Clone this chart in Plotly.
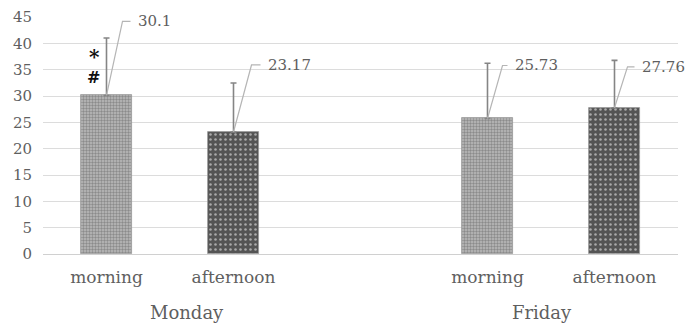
import plotly.graph_objects as go

# Mean values with upper standard deviation per day and time of day
days = ["Monday", "Friday"]
periods = ["morning", "afternoon"]
means = [[30.1, 23.17], [25.73, 27.76]]
sd = [[10.9, 9.3], [10.5, 9.0]]
y_ticks = [0, 5, 10, 15, 20, 25, 30, 35, 40, 45]

FONT = "DejaVu Serif"
TXT = "#5f5f5f"

# pattern fill per time of day
patterns = {
    "morning": dict(shape=".", fgcolor="#5a5a5a", bgcolor="#bcbcbc", size=3, solidity=0.5),
    "afternoon": dict(shape=".", fgcolor="#ffffff", bgcolor="#545454", size=5, solidity=0.2),
}

# leader-line geometry (pixels, relative to bar top): rise, bend dx, end dx
leaders = [[(74, 16, 24), (67, 18, 27)], [(53, 15, 20), (41, 13, 20)]]

fig = go.Figure()
shapes = []
annotations = []
tickvals, ticktext = [], []

for di, day in enumerate(days):
    for pi, per in enumerate(periods):
        xpos = di * 3 + pi
        tickvals.append(xpos)
        ticktext.append(per)
        fig.add_trace(go.Bar(
            x=[xpos], y=[means[di][pi]], width=0.4,
            marker=dict(color=patterns[per]["bgcolor"], pattern=patterns[per],
                        line=dict(width=0.8, color="#9a9a9a")),
            error_y=dict(type="data", array=[sd[di][pi]], arrayminus=[0],
                         symmetric=False, color="#858585", thickness=1.6, width=3),
            showlegend=False, hoverinfo="skip",
        ))
        rise, bend, end = leaders[di][pi]
        shapes.append(dict(
            type="path", xref="x", yref="y", xsizemode="pixel", ysizemode="pixel",
            xanchor=xpos, yanchor=means[di][pi],
            path=f"M0,0 L{bend},{rise} L{end},{rise}",
            line=dict(color="#b5b5b5", width=1.2),
        ))
        annotations.append(dict(
            x=xpos, y=means[di][pi], xref="x", yref="y",
            text=f"{means[di][pi]}", showarrow=False,
            xanchor="left", yanchor="middle",
            xshift=end + 5, yshift=rise,
            font=dict(family=FONT, size=15, color=TXT),
        ))
    # day label below the pair of bars
    annotations.append(dict(
        x=di * 3 + 0.5, y=0, xref="x", yref="paper", yanchor="top",
        text=day, showarrow=False, yshift=-46, xshift=[17, -9][di],
        font=dict(family=FONT, size=18, color=TXT),
    ))

# significance marks on Monday morning
annotations.append(dict(x=0, y=means[0][0], xref="x", yref="y", text="<b>*</b>",
                        showarrow=False, xshift=-12, yshift=38,
                        font=dict(family=FONT, size=20, color="#111111")))
annotations.append(dict(x=0, y=means[0][0], xref="x", yref="y", text="<b>#</b>",
                        showarrow=False, xshift=-13, yshift=18,
                        font=dict(family=FONT, size=16, color="#111111")))

fig.update_layout(
    width=686, height=324,
    margin=dict(l=43, r=8, t=14, b=70),
    paper_bgcolor="white", plot_bgcolor="white",
    shapes=shapes, annotations=annotations,
    bargap=0,
    xaxis=dict(range=[-0.5, 4.5], tickvals=tickvals, ticktext=ticktext,
               showgrid=False, zeroline=False, showline=False, ticks="",
               ticklabelstandoff=11,
               tickfont=dict(family=FONT, size=17, color=TXT)),
    yaxis=dict(range=[0, 45], tickvals=y_ticks, showgrid=True,
               gridcolor="#dcdcdc", gridwidth=1, zeroline=True,
               zerolinecolor="#d0d0d0", zerolinewidth=1, showline=False,
               ticks="", ticklabelstandoff=10,
               tickfont=dict(family=FONT, size=15, color=TXT)),
)

fig.write_html("out.html")
